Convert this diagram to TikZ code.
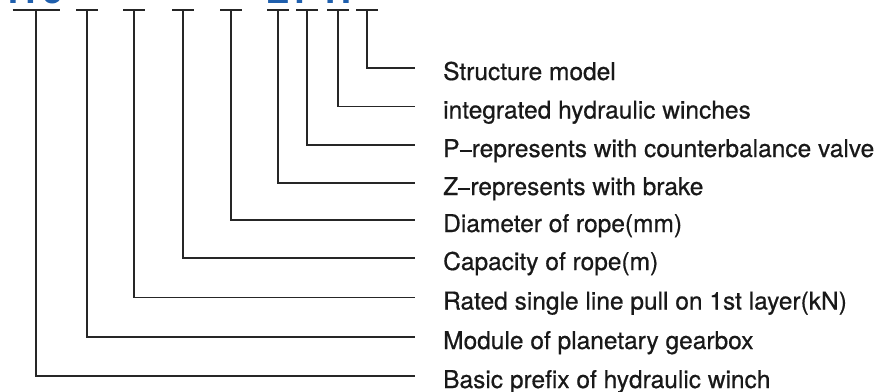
\documentclass[tikz,border=0pt]{standalone}
\usepackage{fontspec}
\setmainfont{TeX Gyre Heros}
\newfontfamily\lblfont[FakeBold=0.6]{TeX Gyre Heros}
\definecolor{codeblue}{HTML}{1F5FAD}
\tikzset{
  conn/.style={draw=black!85, line width=1.1pt},
  lbl/.style={anchor=base west, inner sep=0pt, font=\lblfont\fontsize{24.5}{28}\selectfont, text=black!90},
  code/.style={anchor=base, inner sep=0pt, font=\fontsize{36}{40}\selectfont\bfseries, text=codeblue},
}
\begin{document}
\begin{tikzpicture}[x=1pt,y=-1pt]
  \useasboundingbox (0,0) rectangle (885,391);

  % Model code (only its lower edge is on the page)
  \node[code] (pre) at (36,3) {IYJ};
  \node[code] (cz) at (278,3) {Z};
  \node[code] (cp) at (307,3) {P};
  \node[code] (ch) at (338,3) {H};

  % Bars under the code
  \coordinate (b1) at (36,10);
  \coordinate (b2) at (87,10);
  \coordinate (b3) at (134,10);
  \coordinate (b4) at (183,10);
  \coordinate (b5) at (231,10);
  \coordinate (b6) at (278,10);
  \coordinate (b7) at (307,10);
  \coordinate (b8) at (338,10);
  \coordinate (b9) at (367,10);
  \draw[conn] ([xshift=-23.5pt]b1) -- ([xshift=23.5pt]b1);
  \draw[conn] ([xshift=-11pt]b2) -- ([xshift=11pt]b2);
  \draw[conn] ([xshift=-11pt]b3) -- ([xshift=11pt]b3);
  \draw[conn] ([xshift=-11pt]b4) -- ([xshift=11pt]b4);
  \draw[conn] ([xshift=-11pt]b5) -- ([xshift=11pt]b5);
  \draw[conn] ([xshift=-11pt]b6) -- ([xshift=11pt]b6);
  \draw[conn] ([xshift=-11pt]b7) -- ([xshift=11pt]b7);
  \draw[conn] ([xshift=-11pt]b8) -- ([xshift=11pt]b8);
  \draw[conn] ([xshift=-11pt]b9) -- ([xshift=11pt]b9);

  % Labels
  \node[lbl] (struct) at (443,80) {Structure model};
  \node[lbl] (integ) at (443,118.5) {integrated hydraulic winches};
  \node[lbl] (pval) at (443,157) {P\raisebox{.22em}{\rule{.5em}{.08em}}represents with counterbalance valve};
  \node[lbl] (zbrk) at (443,195) {Z\raisebox{.22em}{\rule{.5em}{.08em}}represents with brake};
  \node[lbl] (diam) at (443,232) {Diameter of rope(mm)};
  \node[lbl] (capa) at (443,270) {Capacity of rope(m)};
  \node[lbl] (rated) at (443,309.5) {Rated single line pull on 1st layer(kN)};
  \node[lbl] (modul) at (443,349) {Module of planetary gearbox};
  \node[lbl] (basic) at (443,388) {Basic prefix of hydraulic winch};

  % Leaders
  \draw[conn] (b9) |- ([shift={(-28pt,12pt)}]struct.base west);
  \draw[conn] (b8) |- ([shift={(-28pt,12pt)}]integ.base west);
  \draw[conn] (b7) |- ([shift={(-28pt,12pt)}]pval.base west);
  \draw[conn] (b6) |- ([shift={(-28pt,12pt)}]zbrk.base west);
  \draw[conn] (b5) |- ([shift={(-28pt,12pt)}]diam.base west);
  \draw[conn] (b4) |- ([shift={(-28pt,12pt)}]capa.base west);
  \draw[conn] (b3) |- ([shift={(-28pt,12pt)}]rated.base west);
  \draw[conn] (b2) |- ([shift={(-28pt,12pt)}]modul.base west);
  \draw[conn] (b1) |- ([shift={(-28pt,12pt)}]basic.base west);

\end{tikzpicture}
\end{document}
